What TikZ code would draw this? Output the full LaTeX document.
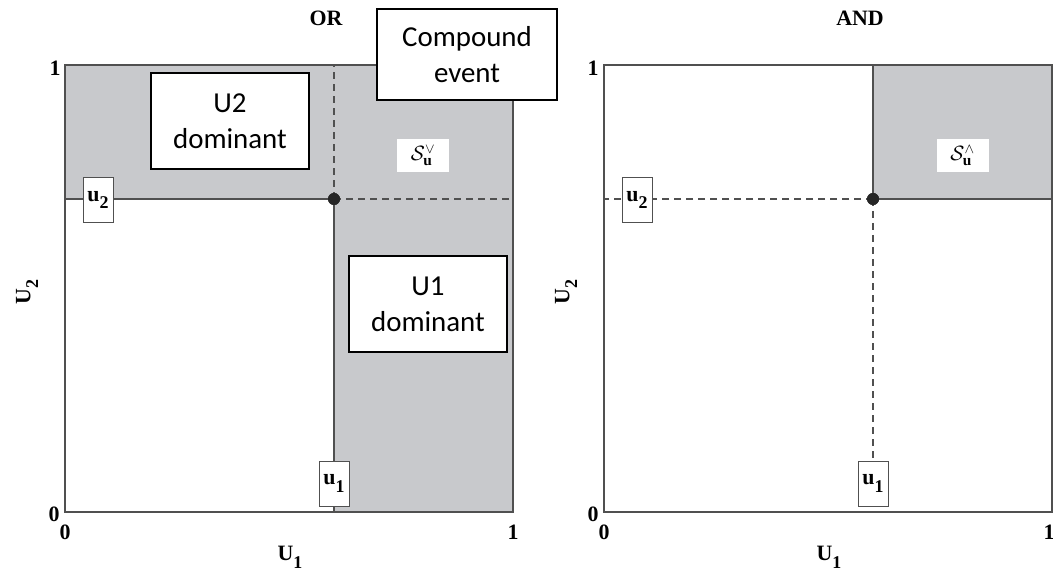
\documentclass[tikz,border=0pt]{standalone}
\usepackage{fontspec}
\setmainfont{Liberation Serif}
\newfontfamily\calibrifont{Carlito}
\definecolor{regiongray}{RGB}{200,201,204}
\definecolor{framegray}{RGB}{80,80,80}
\newcommand{\ulab}[2]{#1\raisebox{-0.35em}{\fontsize{18}{18}\selectfont #2}}
\begin{document}
\begin{tikzpicture}[x=1bp,y=-1bp,
  frameline/.style={draw=framegray,line width=1.3bp},
  dashline/.style={draw=framegray,line width=1.1bp,dash pattern=on 7bp off 5bp},
  region/.style={fill=regiongray},
  dot/.style={circle,fill=black!85,inner sep=0pt,minimum size=12bp},
  ubox/.style={draw=framegray,fill=white,line width=1bp,inner sep=0pt,minimum width=30bp,minimum height=45bp,font=\fontsize{22}{22}\selectfont\bfseries},
  sbox/.style={fill=white,inner sep=0pt,minimum width=52bp,minimum height=33bp,font=\fontsize{22}{22}\selectfont},
  callout/.style={draw=black,fill=white,line width=1.6bp,align=center,inner sep=0pt,font=\calibrifont\fontsize{29}{36}\selectfont},
  ticklabel/.style={inner sep=0pt,font=\fontsize{22}{22}\selectfont\bfseries},
  axislabel/.style={inner sep=0pt,font=\fontsize{22}{22}\selectfont\bfseries}
]
\useasboundingbox (0,0) rectangle (1053,575);

% ---------- left panel (OR) ----------
\fill[region] (65,65) rectangle (513,199);
\fill[region] (334,199) rectangle (513,512);
\coordinate (Ltop) at (334,65);
\coordinate (Lbot) at (334,512);
\coordinate (Lleft) at (65,199);
\coordinate (Lright) at (513,199);
\node[dot] (Lp) at (334,199) {};
\draw[dashline] (Lp.center) -- (Ltop);
\draw[dashline] (Lp.center) -- (Lright);
\draw[frameline] (Lp.center) -- (Lbot);
\draw[frameline] (Lp.center) -- (Lleft);
\draw[frameline] (65,65) rectangle (513,512);
\node[dot] at (334,199) {};

\node[ticklabel] (LOR) at (326,18) {OR};
\node[ticklabel] (Ly1) at (55,68) {1};
\node[ticklabel] (Ly0) at (54,514) {0};
\node[ticklabel] (Lx0) at (65,532) {0};
\node[ticklabel] (Lx1) at (513,532) {1};
\node[axislabel] (LU1) at (290,557) {\ulab{U}{1}};
\node[axislabel,rotate=90] (LU2) at (27,292) {\ulab{U}{2}};

\node[ubox] (Lu2) at (98,200) {\ulab{u}{2}};
\node[ubox] (Lu1) at (334,483.5) {\ulab{u}{1}};
\node[sbox] (Lor) at (423,155.5) {$\mathcal{S}_{\mathbf{u}}^{\vee}$};

\node[callout,minimum width=158bp,minimum height=96bp] (U2d) at (230,121) {U2\\dominant};
\node[callout,minimum width=158bp,minimum height=96bp] (U1d) at (428,304) {U1\\dominant};
\node[callout,minimum width=180bp,minimum height=91bp] (ce) at (467,54.5) {Compound\\event};

% ---------- right panel (AND) ----------
\fill[region] (873,65) rectangle (1052,199);
\coordinate (Rtop) at (873,65);
\coordinate (Rbot) at (873,512);
\coordinate (Rleft) at (604,199);
\coordinate (Rright) at (1052,199);
\node[dot] (Rp) at (873,199) {};
\draw[frameline] (Rp.center) -- (Rtop);
\draw[frameline] (Rp.center) -- (Rright);
\draw[dashline] (Rp.center) -- (Rbot);
\draw[dashline] (Rp.center) -- (Rleft);
\draw[frameline] (604,65) rectangle (1052,512);
\node[dot] at (873,199) {};

\node[ticklabel] (RAND) at (860,18) {AND};
\node[ticklabel] (Ry1) at (593,68) {1};
\node[ticklabel] (Ry0) at (593,514) {0};
\node[ticklabel] (Rx0) at (604,532) {0};
\node[ticklabel] (Rx1) at (1049,532) {1};
\node[axislabel] (RU1) at (829,557) {\ulab{U}{1}};
\node[axislabel,rotate=90] (RU2) at (566,292) {\ulab{U}{2}};

\node[ubox] (Ru2) at (637,200) {\ulab{u}{2}};
\node[ubox] (Ru1) at (873,483.5) {\ulab{u}{1}};
\node[sbox] (Rand) at (962.5,155.5) {$\mathcal{S}_{\mathbf{u}}^{\wedge}$};
\end{tikzpicture}
\end{document}
